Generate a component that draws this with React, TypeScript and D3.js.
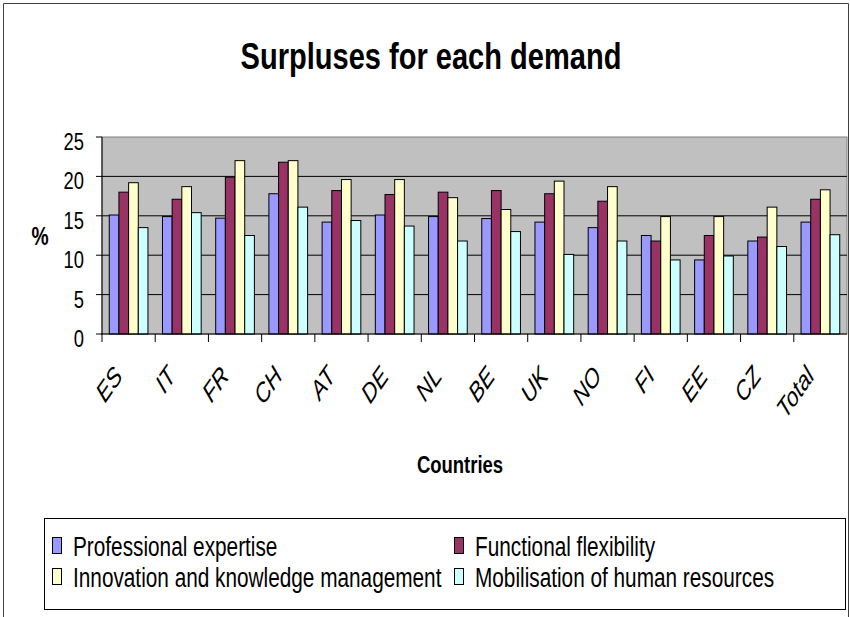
import React from "react";
import * as d3 from "d3";

const categories = ["ES", "IT", "FR", "CH", "AT", "DE", "NL", "BE", "UK", "NO", "FI", "EE", "CZ", "Total"];
const seriesNames = [
  "Professional expertise",
  "Functional flexibility",
  "Innovation and knowledge management",
  "Mobilisation of human resources",
];
const professional = [15.1, 14.9, 14.7, 17.8, 14.2, 15.1, 14.9, 14.65, 14.2, 13.5, 12.5, 9.4, 11.8, 14.2];
const functional = [18.0, 17.1, 19.9, 21.8, 18.2, 17.7, 18.0, 18.2, 17.8, 16.85, 11.8, 12.5, 12.3, 17.1];
const innovation = [19.2, 18.7, 22.0, 22.0, 19.6, 19.6, 17.3, 15.8, 19.4, 18.7, 14.9, 14.9, 16.1, 18.3];
const mobilisation = [13.5, 15.4, 12.5, 16.1, 14.4, 13.7, 11.8, 13.0, 10.1, 11.8, 9.4, 9.9, 11.1, 12.6];
const yTicks = [0, 5, 10, 15, 20, 25];
const colors = ["#9999FF", "#993366", "#FFFFCC", "#CCFFFF"];

const FONT = "'Liberation Sans', Arial, sans-serif";
const SX = 0.77;

export default function App() {
  const W = 850, H = 617;
  const left = 102, right = 847, top = 137, bottom = 334;
  const series = [professional, functional, innovation, mobilisation];

  const x = d3.scaleBand<string>().domain(categories).range([left, right]).paddingInner(0.2727).paddingOuter(0.13635);
  const xCat = d3.scaleBand<string>().domain(categories).range([left, right]);
  const xs = d3.scaleBand<number>().domain([0, 1, 2, 3]).range([0, x.bandwidth()]);
  const y = d3.scaleLinear().domain([0, 25]).range([bottom, top]);

  const legendItems = [
    { name: seriesNames[0], c: colors[0], lx: 52, ly: 556 },
    { name: seriesNames[1], c: colors[1], lx: 454, ly: 556 },
    { name: seriesNames[2], c: colors[2], lx: 52, ly: 587 },
    { name: seriesNames[3], c: colors[3], lx: 454, ly: 587 },
  ];

  return (
    <svg width={W} height={H} style={{ position: "absolute", left: 0, top: 0, background: "#fff" }} fontFamily={FONT}>
      <rect x={0} y={0} width={W} height={H} fill="#fff" />
      <path d={`M3.5,${H + 5} V3.5 H848.5 V${H + 5}`} fill="none" stroke="#404040" strokeWidth={1} />

      <g transform={`translate(431,69) scale(0.785,1)`}>
        <text textAnchor="middle" fontSize={37} fontWeight="bold" fill="#000">Surpluses for each demand</text>
      </g>

      {/* plot area */}
      <rect x={left} y={top} width={right - left} height={bottom - top} fill="#C0C0C0" stroke="#808080" strokeWidth={1} />
      {yTicks.filter((t) => t > 0 && t < 25).map((t) => (
        <line key={t} x1={left} x2={right} y1={y(t)} y2={y(t)} stroke="#000" strokeWidth={1} />
      ))}

      {categories.map((c, i) => (
        <g key={c}>
          {series.map((s, j) => (
            <rect
              key={j}
              x={(x(c) as number) + (xs(j) as number)}
              y={y(s[i])}
              width={xs.bandwidth()}
              height={y(0) - y(s[i])}
              fill={colors[j]}
              stroke="#000"
              strokeWidth={1}
            />
          ))}
        </g>
      ))}

      {/* axes */}
      <line x1={left} x2={left} y1={top} y2={bottom} stroke="#000" strokeWidth={1} />
      <line x1={left - 1} x2={right} y1={bottom} y2={bottom} stroke="#000" strokeWidth={1} />
      {yTicks.map((t) => (
        <g key={t}>
          <line x1={left - 6} x2={left} y1={y(t)} y2={y(t)} stroke="#000" />
          <g transform={`translate(84,${y(t) + 13}) scale(0.8,1)`}>
            <text textAnchor="end" fontSize={23} fill="#000">{t}</text>
          </g>
        </g>
      ))}
      {categories.map((c) => (
        <line key={c} x1={(xCat(c) as number)} x2={(xCat(c) as number)} y1={bottom} y2={bottom + 8} stroke="#000" />
      ))}
      {categories.map((c) => {
        const cx = (xCat(c) as number) + xCat.bandwidth() / 2;
        return (
          <g key={c} transform={`translate(${cx - 5},377) scale(${SX},1) rotate(-48)`}>
            <text textAnchor="end" fontSize={27} fontStyle="italic" fill="#000">{c}</text>
          </g>
        );
      })}

      <g transform={`translate(40,245) scale(${SX},1)`}>
        <text textAnchor="middle" fontSize={25} fontWeight="bold" fill="#000">%</text>
      </g>
      <g transform={`translate(460,473) scale(${SX},1)`}>
        <text textAnchor="middle" fontSize={24} fontWeight="bold" fill="#000">Countries</text>
      </g>

      {/* legend */}
      <rect x={44.5} y={518.5} width={801} height={91} fill="#fff" stroke="#000" strokeWidth={1} />
      {legendItems.map((it) => (
        <g key={it.name}>
          <rect x={it.lx + 0.5} y={it.ly - 18.5} width={9} height={16} fill={it.c} stroke="#000" strokeWidth={1} />
          <g transform={`translate(${it.lx + 21},${it.ly}) scale(${SX},1)`}>
            <text fontSize={27} fill="#000">{it.name}</text>
          </g>
        </g>
      ))}
    </svg>
  );
}
